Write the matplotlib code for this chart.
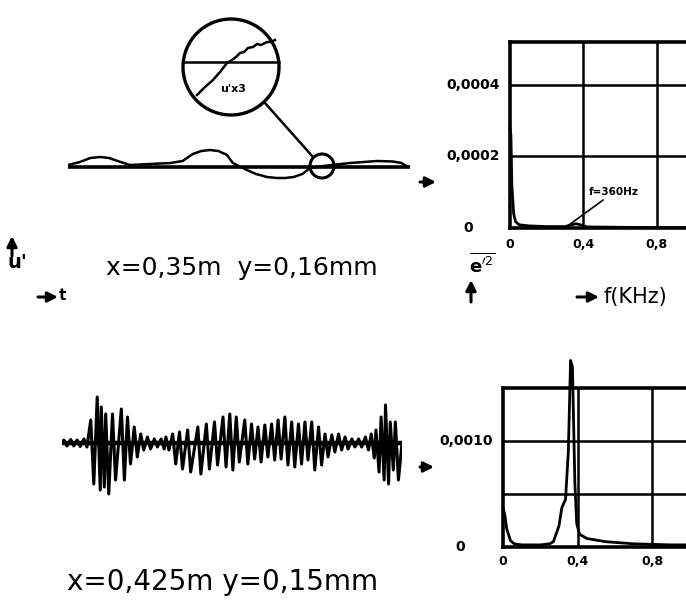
import matplotlib
matplotlib.use("Agg")
import matplotlib.pyplot as plt
from matplotlib.patches import Circle

W, H = 686, 605

# upper hot-wire record, x = 0.35 m, y = 0.16 mm  (t in % of record, u' arb. units)
top_t = [0, 3.5, 6.5, 9.4, 12, 14.5, 18.1, 24.0, 30, 33.5, 36.5, 39, 41.5, 44, 46.5,
         48.2, 52.3, 55, 58.2, 61, 63.5, 66, 68.5, 70.8, 74.6, 82.5, 90.4, 95, 97.5, 99.4]
top_u = [0.2, 0.5, 0.9, 1.0, 0.9, 0.6, 0.2, 0.3, 0.4, 0.6, 1.3, 1.6, 1.7, 1.6, 1.2,
         0.4, -0.3, -0.7, -1.0, -1.1, -1.1, -1.0, -0.7, -0.1, 0.1, 0.4, 0.6, 0.55, 0.4, 0.0]

# lower record, x = 0.425 m, y = 0.15 mm: one entry per oscillation cycle
bot_t = [1.0, 3.0, 4.9, 6.9, 8.9, 10.8, 12.0, 13.3, 15.3, 17.9, 19.7, 21.7, 23.6,
         25.6, 27.6, 29.6, 31.0, 33.0, 35.0, 37.4, 40.4, 42.9, 45.3, 47.8, 49.8,
         51.7, 54.2, 56.2, 58.1, 60.1, 62.1, 64.0, 66.0, 68.0, 70.0, 71.9, 73.9,
         75.9, 77.8, 79.8, 81.8, 83.7, 85.7, 87.7, 89.7, 91.4, 92.8, 94.3, 95.6,
         97.0, 98.5]
bot_up = [0.3, 0.35, 0.3, 0.4, 2.3, 4.6, 3.6, 2.9, 2.9, 3.4, 2.6, 1.6, 0.9,
          0.6, 0.4, 0.4, 0.6, 0.9, 1.1, 1.3, 1.6, 1.9, 2.1, 2.6, 2.9,
          2.6, 2.3, 1.9, 1.6, 1.8, 1.9, 2.3, 2.6, 2.1, 1.9, 2.1, 2.1,
          1.6, 0.9, 0.8, 0.9, 0.6, 0.4, 0.4, 0.6, 0.9, 1.3, 2.6, 3.8,
          2.1, 2.1]
bot_dn = [0.3, 0.3, 0.35, 0.4, 4.1, 4.7, 4.4, 5.1, 3.7, 3.7, 2.1, 1.4, 0.7,
          0.6, 0.4, 0.6, 0.7, 2.1, 2.6, 2.9, 3.1, 2.6, 2.2, 2.4, 2.7,
          1.9, 2.1, 1.6, 1.9, 1.4, 1.7, 1.6, 2.2, 2.4, 2.1, 1.7, 2.7,
          2.2, 1.4, 0.9, 0.7, 0.6, 0.4, 0.4, 0.7, 1.5, 2.9, 3.7, 4.1,
          2.7, 3.7]

# magnified piece of the upper record (u' x 3), px relative to lens centre
mag_x = [-34, -26, -18, -11, -4, 1, 5, 9, 13, 17, 22, 26, 30, 36, 40, 44]
mag_y = [28, 20, 13, 5, -4, -7, -10, -14, -15, -19, -20, -23, -22, -25, -25, -27]

# energy spectra, f in kHz
spec1_f = [0.0, 0.005, 0.01, 0.02, 0.03, 0.05, 0.1, 0.2, 0.3, 0.33, 0.36, 0.39, 0.42, 0.6, 0.8, 1.2]
spec1_e = [0.00028, 0.00026, 0.00012, 0.00004, 0.000018, 0.000009, 0.000006, 0.000004,
           0.000004, 0.000008, 0.000012, 0.000008, 0.000003, 0.000002, 0.000001, 0.000001]
spec2_f = [0.0, 0.01, 0.02, 0.04, 0.06, 0.1, 0.2, 0.25, 0.27, 0.30, 0.315, 0.335, 0.35,
           0.362, 0.372, 0.385, 0.395, 0.41, 0.45, 0.55, 0.7, 0.9, 1.2]
spec2_e = [0.00037, 0.0003, 0.00017, 0.00006, 0.00003, 0.00002, 0.00002, 0.00003, 0.00005,
           0.0002, 0.00037, 0.00045, 0.0009, 0.00176, 0.0017, 0.0006, 0.00022, 0.00012,
           0.00008, 0.00005, 0.00003, 0.00002, 0.00002]

spec1_ticks = [0, 0.0002, 0.0004]
spec1_labels = ["0", "0,0002", "0,0004"]
spec2_ticks = [0, 0.0010]
spec2_labels = ["0", "0,0010"]
spec2_grid = [0.0005, 0.0010]
f_ticks = [0, 0.4, 0.8]
f_labels = ["0", "0,4", "0,8"]
f_grid = [0.4, 0.8, 1.2]

plt.rcParams['font.family'] = ['DejaVu Sans']

fig = plt.figure(figsize=(W / 100, H / 100), dpi=100)


def px_axes(x0, y0, x1, y1):
    # axes from a pixel box (top-left origin)
    return fig.add_axes([x0 / W, 1 - y1 / H, (x1 - x0) / W, (y1 - y0) / H])


# upper time trace
ax_t1 = px_axes(68, 117, 410, 217)
ax_t1.set_xlim(0, 100)
ax_t1.set_ylim(-5, 5)
ax_t1.axhline(0, xmin=0, xmax=1, color="black", lw=2.6)
ax_t1.plot(top_t, top_u, color="black", lw=1.8, solid_capstyle="round")
ax_t1.axis("off")

# lower time trace: zigzag through the peaks of each cycle
zx, zy = [0], [0]
for t, up, dn in zip(bot_t, bot_up, bot_dn):
    zx += [t - 0.45, t + 0.45]
    zy += [up, -dn]
zx.append(100)
zy.append(0)
ax_t2 = px_axes(62, 383, 402, 503)
ax_t2.set_xlim(0, 100)
ax_t2.set_ylim(-6, 6)
ax_t2.axhline(0, color="black", lw=3.2)
ax_t2.plot(zx, zy, color="black", lw=2.2)
ax_t2.axis("off")


def spectrum(box, f, e, ymax, ticks, labels, grid):
    ax = px_axes(*box)
    ax.plot(f, e, color="black", lw=2.0, clip_on=False, zorder=3)
    ax.set_xlim(0, 1.2)
    ax.set_ylim(0, ymax)
    for g in grid:
        ax.axhline(g, color="black", lw=1.8)
    for g in f_grid:
        ax.axvline(g, color="black", lw=1.8)
    for s in ax.spines.values():
        s.set_linewidth(2.6)
    ax.set_xticks([])
    ax.set_yticks([])
    for v, lab in zip(ticks, labels):
        xpos = -0.19 if v == 0 else -0.045
        ax.text(xpos, v, lab, transform=ax.get_yaxis_transform(), ha="right" if v else "center",
                va="center", fontsize=10, fontweight="bold")
    for v, lab in zip(f_ticks, f_labels):
        ax.text(v, -0.09, lab, transform=ax.get_xaxis_transform(), ha="center",
                va="center", fontsize=9, fontweight="bold")
    return ax


ax_s1 = spectrum((510, 42, 730, 228), spec1_f, spec1_e, 0.00052,
                 spec1_ticks, spec1_labels, spec1_ticks[1:])
ax_s1.annotate("f=360Hz", xy=(0.32, 0.000008), xytext=(0.43, 0.0001),
               fontsize=7.5, fontweight="bold", ha="left", va="center",
               arrowprops=dict(arrowstyle="-", lw=1.2, color="black", shrinkA=0, shrinkB=0))

ax_s2 = spectrum((503, 388, 727, 547), spec2_f, spec2_e, 0.0015,
                 spec2_ticks, spec2_labels, spec2_grid)
ax_s2.annotate("f=360Hz", xy=(0.372, 0.00168), xytext=(0.43, 0.00125),
               fontsize=7.5, fontweight="bold", ha="left", va="center",
               arrowprops=dict(arrowstyle="-", lw=1.2, color="black", shrinkA=0, shrinkB=0))

# overlay in pixel coordinates for lens, arrows and captions
ov = fig.add_axes([0, 0, 1, 1])
ov.set_xlim(0, W)
ov.set_ylim(H, 0)
ov.axis("off")

cx, cy, r = 231, 67, 48
ov.add_patch(Circle((cx, cy), r, fill=False, lw=2.4, color="black"))
ov.plot([cx - 47.7, cx + 47.7], [cy - 5, cy - 5], color="black", lw=1.8)
ov.plot([cx + x for x in mag_x], [cy + y for y in mag_y], color="black", lw=1.8)
ov.text(cx + 2, cy + 22, "u'x3", fontsize=8, fontweight="bold", ha="center", va="center")
ov.add_patch(Circle((322, 166), 12, fill=False, lw=2.2, color="black"))
ov.plot([265, 313], [103, 157], color="black", lw=1.8)

arrow = dict(arrowstyle="-|>,head_length=0.6,head_width=0.3", lw=2.2, color="black",
             shrinkA=0, shrinkB=0)
ov.annotate("", xy=(436, 182), xytext=(420, 182), arrowprops=arrow)
ov.annotate("", xy=(434, 467), xytext=(420, 467), arrowprops=arrow)
ov.annotate("", xy=(12, 236), xytext=(12, 256), arrowprops=arrow)
ov.annotate("", xy=(58, 297), xytext=(38, 297), arrowprops=arrow)
ov.annotate("", xy=(471, 280), xytext=(471, 302), arrowprops=arrow)
ov.annotate("", xy=(599, 297), xytext=(577, 297), arrowprops=arrow)

ov.text(17, 263, "u'", fontsize=14, fontweight="bold", ha="center", va="center")
ov.text(62, 295, "t", fontsize=11, fontweight="bold", ha="center", va="center")
ov.text(482, 264, r"$\overline{\mathbf{e}^{\prime 2}}$", fontsize=13, ha="center", va="center")
ov.text(603, 297, "f(KHz)", fontsize=15, ha="left", va="center")

ov.text(242, 268, "x=0,35m  y=0,16mm", fontsize=18, ha="center", va="center")
ov.text(223, 582, "x=0,425m y=0,15mm", fontsize=20, ha="center", va="center")

fig.savefig("out.png", dpi=100)
